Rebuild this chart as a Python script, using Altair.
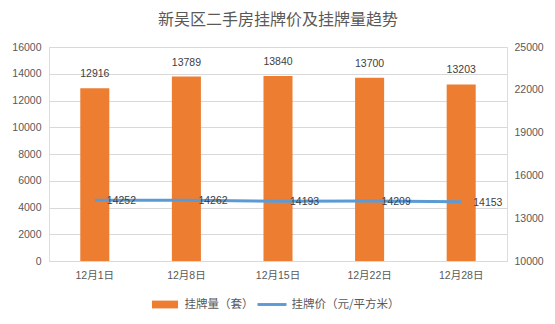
import altair as alt
import pandas as pd

dates = ["12月1日", "12月8日", "12月15日", "12月22日", "12月28日"]
listings = [12916, 13789, 13840, 13700, 13203]
prices = [14252, 14262, 14193, 14209, 14153]
series = ["挂牌量（套）", "挂牌价（元/平方米）"]
series_colors = ["#ED7D31", "#5B9BD5"]
left_ticks = [0, 2000, 4000, 6000, 8000, 10000, 12000, 14000, 16000]
right_ticks = [10000, 13000, 16000, 19000, 22000, 25000]

df = pd.DataFrame({"date": dates, "count": listings, "price": prices})
leg = pd.DataFrame({"series": series, "date": [dates[0], dates[0]], "v": [-5000, -5000]})

FONT = "Liberation Sans, Noto Sans CJK SC"
CJK = "Noto Sans CJK SC"
TXT = "#595959"

xaxis = alt.Axis(title=None, labelAngle=0, ticks=False, domain=True, domainColor="#D9D9D9",
                 labelFont=FONT, labelFontSize=10.5, labelColor=TXT, labelPadding=9)
xscale = alt.Scale(paddingInner=0.683, paddingOuter=0.3415)


def xenc():
    return alt.X("date:N", sort=dates, scale=xscale, axis=xaxis)


yleft_scale = alt.Scale(domain=[0, 16000], nice=False, zero=True)
yleft_axis = alt.Axis(title=None, values=left_ticks, tickCount=9, format="d", grid=True, gridColor="#D9D9D9",
                      ticks=False, domain=False, labelFont=FONT, labelFontSize=10.5,
                      labelColor=TXT, labelPadding=8, labelOverlap=False, labelFlush=False)

bars = alt.Chart(df).mark_bar(color="#ED7D31").encode(
    x=xenc(),
    y=alt.Y("count:Q", scale=yleft_scale, axis=yleft_axis),
)
bar_text = alt.Chart(df).mark_text(baseline="bottom", dy=-9, font=FONT, fontSize=10.5, color="#404040").encode(
    x=xenc(), y=alt.Y("count:Q", scale=yleft_scale, axis=yleft_axis), text="count:Q"
)

rect_path = "M-0.9,-0.27H0.9V0.27H-0.9Z"
line_path = "M-1,-0.1H1V0.1H-1Z"
legend_cfg = alt.Legend(title=None, orient="none", direction="horizontal", legendX=101.5, legendY=243,
                        symbolSize=841, symbolStrokeWidth=0, labelFont=CJK, labelFontSize=11.5,
                        labelColor=TXT, labelOffset=5, columnPadding=4, padding=0)
legend_pts = alt.Chart(leg).mark_point(filled=True, clip=True, opacity=1).encode(
    x=xenc(),
    y=alt.Y("v:Q", scale=yleft_scale, axis=yleft_axis),
    color=alt.Color("series:N", scale=alt.Scale(domain=series, range=series_colors), legend=legend_cfg),
    shape=alt.Shape("series:N", scale=alt.Scale(domain=series, range=[rect_path, line_path]), legend=legend_cfg),
)

yright_scale = alt.Scale(domain=[10000, 25000], nice=False, zero=False)
yright_axis = alt.Axis(title=None, orient="right", values=right_ticks, tickCount=6, format="d", grid=False,
                       ticks=False, domain=False, labelFont=FONT, labelFontSize=10.5, labelColor=TXT,
                       labelPadding=7, labelOverlap=False, labelFlush=False)
line = alt.Chart(df).mark_line(color="#5B9BD5", strokeWidth=3).encode(
    x=xenc(),
    y=alt.Y("price:Q", scale=yright_scale, axis=yright_axis),
)
line_text = alt.Chart(df).mark_text(align="left", baseline="middle", dx=12, dy=1, font=FONT,
                                    fontSize=10.5, color="#404040").encode(
    x=xenc(), y=alt.Y("price:Q", scale=yright_scale, axis=yright_axis), text="price:Q"
)

left = alt.layer(bars, bar_text, legend_pts)
right = alt.layer(line, line_text)

chart = alt.layer(left, right).resolve_scale(y="independent").properties(
    width=458, height=214,
    autosize=alt.AutoSizeParams(type="none"),
    padding={"left": 49, "top": 47, "right": 48, "bottom": 63},
    title=alt.Title("新吴区二手房挂牌价及挂牌量趋势", font=CJK, fontSize=16, fontWeight="normal",
                    color=TXT, anchor="middle", frame="group", offset=14),
).configure_view(stroke=None).configure(background="white")

chart.save("out.html", embed_options={"renderer": "svg", "actions": False})
